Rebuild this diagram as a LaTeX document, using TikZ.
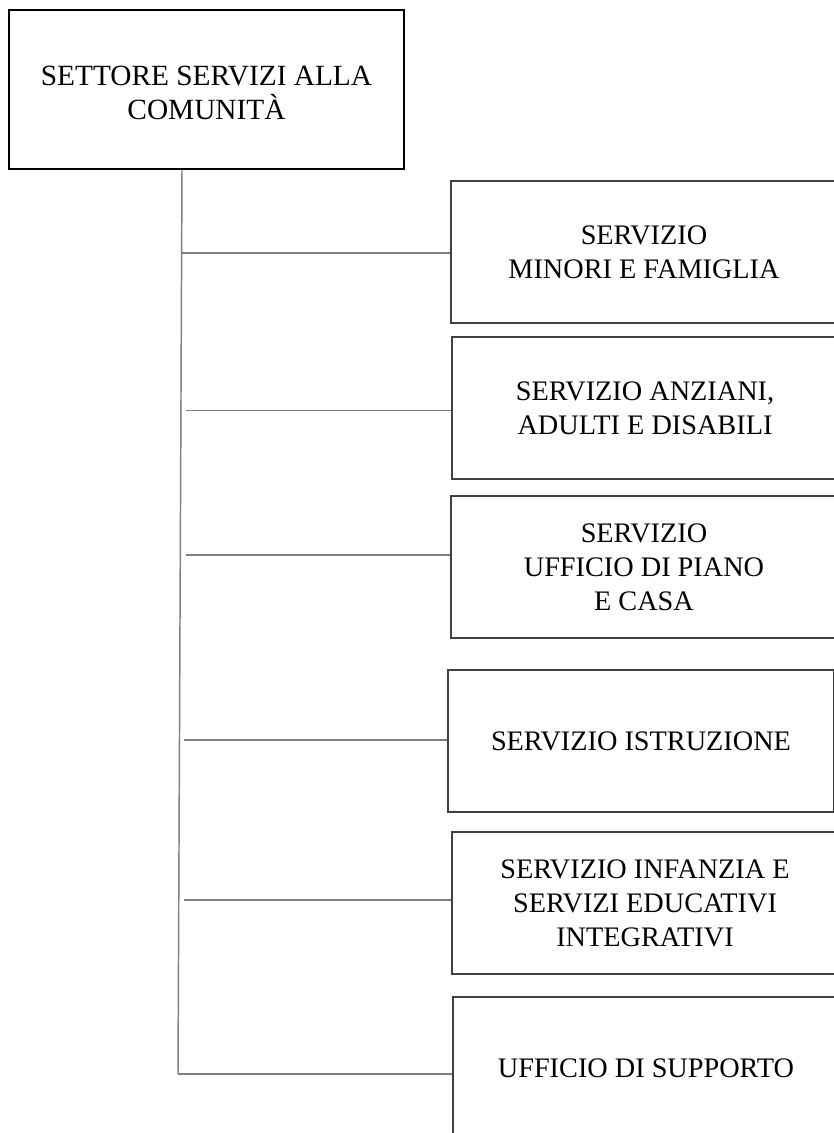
\documentclass[tikz,border=0pt]{standalone}
\usepackage{fontspec}
\setmainfont{Liberation Serif}
\begin{document}
\begin{tikzpicture}[x=0.75pt,y=-0.75pt,
  box/.style={draw=black!75,line width=0.9pt,minimum width=289.5pt,minimum height=106.5pt,inner sep=0pt,align=center,font=\fontsize{21.2}{25.5}\selectfont},
  topbox/.style={draw=black,line width=0.9pt,minimum width=296.25pt,minimum height=119.25pt,inner sep=0pt},
  toptext/.style={align=center,inner sep=0pt,yshift=-2.5pt,font=\fontsize{22}{25.5}\selectfont},
  conn/.style={draw=black!50,line width=1.1pt}]
\useasboundingbox (0,0) rectangle (834,1133);
\node[topbox,label={[toptext]center:SETTORE SERVIZI ALLA\\COMUNITÀ}] (top) at (206.5,89.5) {};
\node[box] (b1) at (644,252) {SERVIZIO\\MINORI E FAMIGLIA};
\node[box] (b2) at (645,408) {SERVIZIO ANZIANI,\\ADULTI E DISABILI};
\node[box] (b3) at (644,567) {SERVIZIO\\UFFICIO DI PIANO\\E CASA};
\node[box] (b4) at (641,741) {SERVIZIO ISTRUZIONE};
\node[box] (b5) at (645,903) {SERVIZIO INFANZIA E\\SERVIZI EDUCATIVI\\INTEGRATIVI};
\node[box] (b6) at (646,1068) {UFFICIO DI SUPPORTO};
\coordinate (tt) at (182,170);
\coordinate (tb) at (178,1074);
\coordinate (s1) at (181.5,253);
\coordinate (s2) at (186,410.7);
\coordinate (s3) at (186,555);
\coordinate (s4) at (184,740);
\coordinate (s5) at (184,900);
\draw[conn] (top.south -| tt) -- (tb);
\draw[conn] (s1) -- (s1 -| b1.west);
\draw[conn] (s2) -- (s2 -| b2.west);
\draw[conn] (s3) -- (s3 -| b3.west);
\draw[conn] (s4) -- (s4 -| b4.west);
\draw[conn] (s5) -- (s5 -| b5.west);
\draw[conn] (tb) -- (tb -| b6.west);
\end{tikzpicture}
\end{document}
